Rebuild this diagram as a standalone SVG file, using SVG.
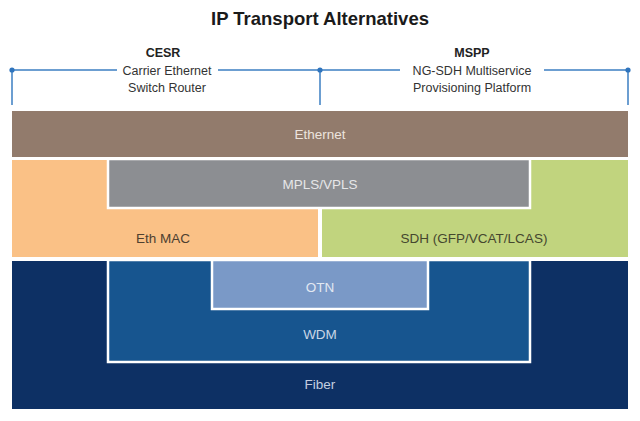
<svg xmlns="http://www.w3.org/2000/svg" width="640" height="421" viewBox="0 0 640 421">
<style>
text{font-family:"Liberation Sans",Arial,sans-serif;text-anchor:middle}
.title{font-size:18.5px;font-weight:bold;fill:#1a1a1a}
.hb{font-size:12.5px;font-weight:bold;fill:#222}
.h{font-size:12.5px;fill:#333}
.lab{font-size:13.5px}
.ln{stroke:#3d7fc2;stroke-width:1.5;fill:none}
.dot{fill:#2f74bd}
.wb{stroke:#ffffff;stroke-width:2.5}
</style>
<rect width="640" height="421" fill="#ffffff"/>
<text class="title" x="320" y="25">IP Transport Alternatives</text>
<g id="connectors">
<path class="ln" d="M12,70 H117 M218,70 H400 M544,70 H628 M12,70 V105 M320,70 V105 M628,70 V105"/>
<circle class="dot" cx="12" cy="70" r="2.6"/>
<circle class="dot" cx="320" cy="70" r="2.6"/>
<circle class="dot" cx="628" cy="70" r="2.6"/>
</g>
<g id="cesr">
<text class="hb" x="163" y="57">CESR</text>
<text class="h" x="167" y="75">Carrier Ethernet</text>
<text class="h" x="167" y="92">Switch Router</text>
</g>
<g id="mspp">
<text class="hb" x="472" y="57">MSPP</text>
<text class="h" x="472" y="75">NG-SDH Multiservice</text>
<text class="h" x="472" y="92">Provisioning Platform</text>
</g>
<g id="ethernet">
<rect x="12" y="111" width="616" height="46" fill="#927b6c"/>
<text class="lab" x="320" y="139" fill="#ece4de">Ethernet</text>
</g>
<g id="ethmac">
<rect x="12" y="160" width="306" height="97" fill="#fac186"/>
<text class="lab" x="163" y="243" fill="#4e4030">Eth MAC</text>
</g>
<g id="sdh">
<rect x="322" y="160" width="306" height="97" fill="#c1d47e"/>
<text class="lab" x="474" y="243" fill="#45472f">SDH (GFP/VCAT/LCAS)</text>
</g>
<g id="mpls">
<rect class="wb" x="108" y="159" width="422" height="49" fill="#8c8e92"/>
<text class="lab" x="320" y="189" fill="#e6e6e8">MPLS/VPLS</text>
</g>
<g id="fiber">
<rect x="12" y="261" width="616" height="148" fill="#0d3064"/>
<text class="lab" x="320" y="389" fill="#c3cee0">Fiber</text>
</g>
<g id="wdm">
<rect class="wb" x="108" y="260" width="422" height="102" fill="#17558f"/>
<text class="lab" x="320" y="339" fill="#c9d5e6">WDM</text>
</g>
<g id="otn">
<rect class="wb" x="212" y="260" width="216" height="49" fill="#7a99c7"/>
<text class="lab" x="320" y="292" fill="#e2e8f2">OTN</text>
</g>
</svg>
